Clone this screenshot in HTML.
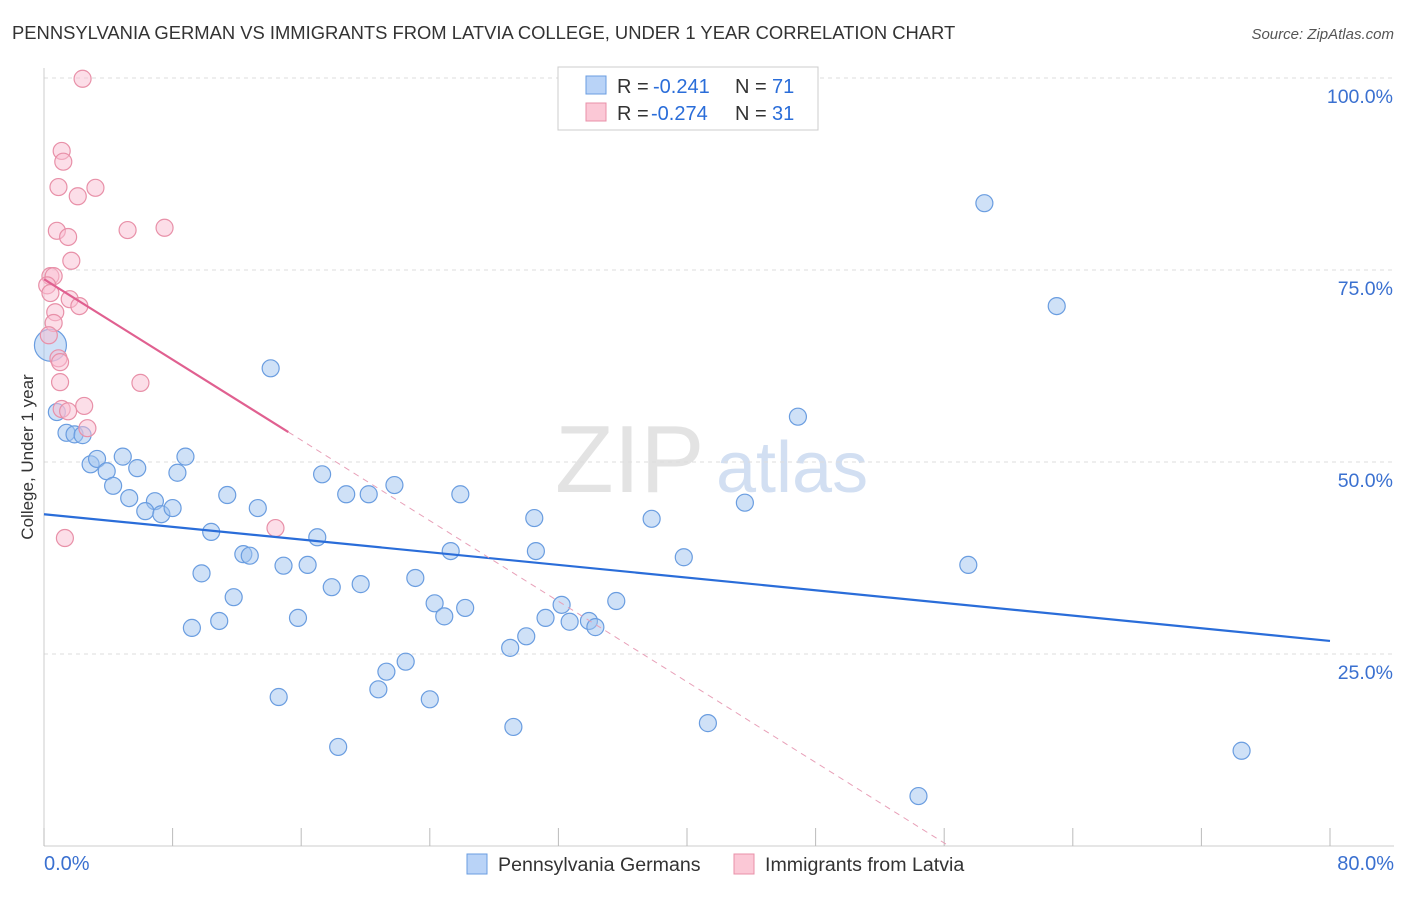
<!DOCTYPE html>
<html><head><meta charset="utf-8"><style>
body{margin:0;background:#fff;font-family:"Liberation Sans",sans-serif}
svg text{font-family:"Liberation Sans",sans-serif}
</style></head><body>
<svg id="chart" width="1406" height="892" xmlns="http://www.w3.org/2000/svg">
<text x="12" y="39" font-size="18.4" fill="#333">PENNSYLVANIA GERMAN VS IMMIGRANTS FROM LATVIA COLLEGE, UNDER 1 YEAR CORRELATION CHART</text>
<text x="1394" y="39" font-size="15" fill="#555" text-anchor="end" font-style="italic">Source: ZipAtlas.com</text>
<text x="555" y="492" font-size="96" fill="#ddd" font-family="Liberation Serif" opacity="0.8">ZIP</text>
<text x="716" y="492" font-size="72" fill="#c8d8f0" opacity="0.8">atlas</text>
<text transform="translate(33,457) rotate(-90)" font-size="17" fill="#333" text-anchor="middle">College, Under 1 year</text>
<g id="grid"></g><g id="axes"></g><g id="marks"></g>
<g>
<rect x="558" y="67" width="260" height="63" fill="#fff" stroke="#ccc"/>
<rect x="586" y="76" width="20" height="18" fill="#b9d3f7" stroke="#6a9de0"/>
<rect x="586" y="103" width="20" height="18" fill="#fbc8d6" stroke="#e890a8"/>
<text x="617" y="93" font-size="20" fill="#333">R =</text>
<text x="653" y="93" font-size="20" fill="#2a6dd9">-0.241</text>
<text x="735" y="93" font-size="20" fill="#333">N =</text>
<text x="772" y="93" font-size="20" fill="#2a6dd9">71</text>
<text x="617" y="120" font-size="20" fill="#333">R =</text>
<text x="651" y="120" font-size="20" fill="#2a6dd9">-0.274</text>
<text x="735" y="120" font-size="20" fill="#333">N =</text>
<text x="772" y="120" font-size="20" fill="#2a6dd9">31</text>
</g>
<g>
<rect x="467" y="854" width="20" height="20" fill="#b9d3f7" stroke="#6a9de0"/>
<text x="498" y="871" font-size="19.6" fill="#333">Pennsylvania Germans</text>
<rect x="734" y="854" width="20" height="20" fill="#fbc8d6" stroke="#e890a8"/>
<text x="765" y="871" font-size="19.6" fill="#333">Immigrants from Latvia</text>
</g>
</svg>
<script>
const blueX=[58.5,63.0,14.1,46.9,0.8,1.4,1.9,2.4,2.9,3.3,3.9,4.9,5.8,8.3,8.8,4.3,5.3,6.9,6.3,7.3,8.0,11.4,13.3,10.4,17.3,18.8,20.2,21.8,25.9,30.5,37.8,43.6,17.0,12.4,12.8,14.9,16.4,25.3,30.6,39.8,57.5,9.8,11.8,17.9,19.7,23.1,24.3,26.2,24.9,31.2,32.2,32.7,33.9,34.3,35.6,9.2,10.9,15.8,30.0,29.0,22.5,21.3,20.8,14.6,24.0,29.2,18.3,41.3,74.5,54.4];
const blueY=[83.7,70.3,62.2,55.9,56.5,53.8,53.6,53.5,49.7,50.4,48.8,50.7,49.2,48.6,50.7,46.9,45.3,44.9,43.6,43.2,44.0,45.7,44.0,40.9,48.4,45.8,45.8,47.0,45.8,42.7,42.6,44.7,40.2,38.0,37.8,36.5,36.6,38.4,38.4,37.6,36.6,35.5,32.4,33.7,34.1,34.9,31.6,31.0,29.9,29.7,31.4,29.2,29.3,28.5,31.9,28.4,29.3,29.7,27.3,25.8,24.0,22.7,20.4,19.4,19.1,15.5,12.9,16.0,12.4,6.5];
const bigBlue=[0.4,65.2];
const pinkX=[2.4,1.1,1.2,0.9,3.2,2.1,0.8,1.5,5.2,7.5,1.7,0.4,0.6,0.2,0.4,1.6,2.2,0.7,0.6,0.3,0.9,1.0,1.0,6.0,2.5,1.1,1.5,2.7,14.4,1.3];
const pinkY=[99.9,90.5,89.1,85.8,85.7,84.6,80.1,79.3,80.2,80.5,76.2,74.2,74.2,73.0,72.0,71.2,70.3,69.5,68.1,66.5,63.5,63.0,60.4,60.3,57.3,56.9,56.6,54.4,41.4,40.1];
const blueTrend=[[0,43.2],[80,26.7]];
const pinkTrend=[[0,73.8],[15.2,53.9]];
const pinkDash=[[15.2,53.9],[56.3,0]];
const yTicks=[100,75,50,25];
const yTickLabels=["100.0%","75.0%","50.0%","25.0%"];
const xTicks=[0,8,16,24,32,40,48,56,64,72,80];
const NS="http://www.w3.org/2000/svg";
const sx=v=>44+v*1286/80, sy=v=>846-v*7.68;
function mk(tag,attrs,parent){const e=document.createElementNS(NS,tag);for(const k in attrs)e.setAttribute(k,attrs[k]);document.getElementById(parent).appendChild(e);return e;}
yTicks.forEach((t,i)=>{
 const l=mk('line',{x1:44,x2:1394,y1:sy(t),y2:sy(t),stroke:'#ddd','stroke-dasharray':'4,4'},'grid');
 
 
 const tx=mk('text',{x:1393,y:sy(t)+25,'font-size':19.5,fill:'#3a70d0','text-anchor':'end'},'axes');tx.textContent=yTickLabels[i];
 
 
});
const ax=mk('line',{x1:44,x2:1394,y1:846,y2:846,stroke:'#ccc'},'axes');


const ay=mk('line',{x1:44,x2:44,y1:68,y2:846,stroke:'#ccc'},'axes');


xTicks.forEach(t=>{const l=mk('line',{x1:sx(t),x2:sx(t),y1:828,y2:846,stroke:'#bbb'},'axes');
 
 });
[["0.0%",44,"start"],["80.0%",1394,"end"]].forEach(a=>{const t=mk('text',{x:a[1],y:870,'font-size':20,fill:'#3a70d0','text-anchor':a[2]},'axes');t.textContent=a[0];
 
 });
blueX.forEach((x,i)=>{const c=mk('circle',{cx:sx(x),cy:sy(blueY[i]),r:8.5,fill:'rgba(160,195,240,0.5)',stroke:'#6a9de0','stroke-width':1.2},'marks');
 
 });
const bb=mk('circle',{cx:sx(bigBlue[0]),cy:sy(bigBlue[1]),r:16,fill:'rgba(160,195,240,0.5)',stroke:'#6a9de0','stroke-width':1.2},'marks');


pinkX.forEach((x,i)=>{const c=mk('circle',{cx:sx(x),cy:sy(pinkY[i]),r:8.5,fill:'rgba(250,190,210,0.5)',stroke:'#e890a8','stroke-width':1.2},'marks');
 
 });
const bt=mk('line',{x1:sx(blueTrend[0][0]),y1:sy(blueTrend[0][1]),x2:sx(blueTrend[1][0]),y2:sy(blueTrend[1][1]),stroke:'#2a6dd9','stroke-width':2.2},'marks');


const pt=mk('line',{x1:sx(pinkTrend[0][0]),y1:sy(pinkTrend[0][1]),x2:sx(pinkTrend[1][0]),y2:sy(pinkTrend[1][1]),stroke:'#e06090','stroke-width':2.2},'marks');


const pd=mk('line',{x1:sx(pinkDash[0][0]),y1:sy(pinkDash[0][1]),x2:sx(pinkDash[1][0]),y2:sy(pinkDash[1][1]),stroke:'#e8a0b8','stroke-width':1,'stroke-dasharray':'6,5'},'marks');


</script>
</body></html>
